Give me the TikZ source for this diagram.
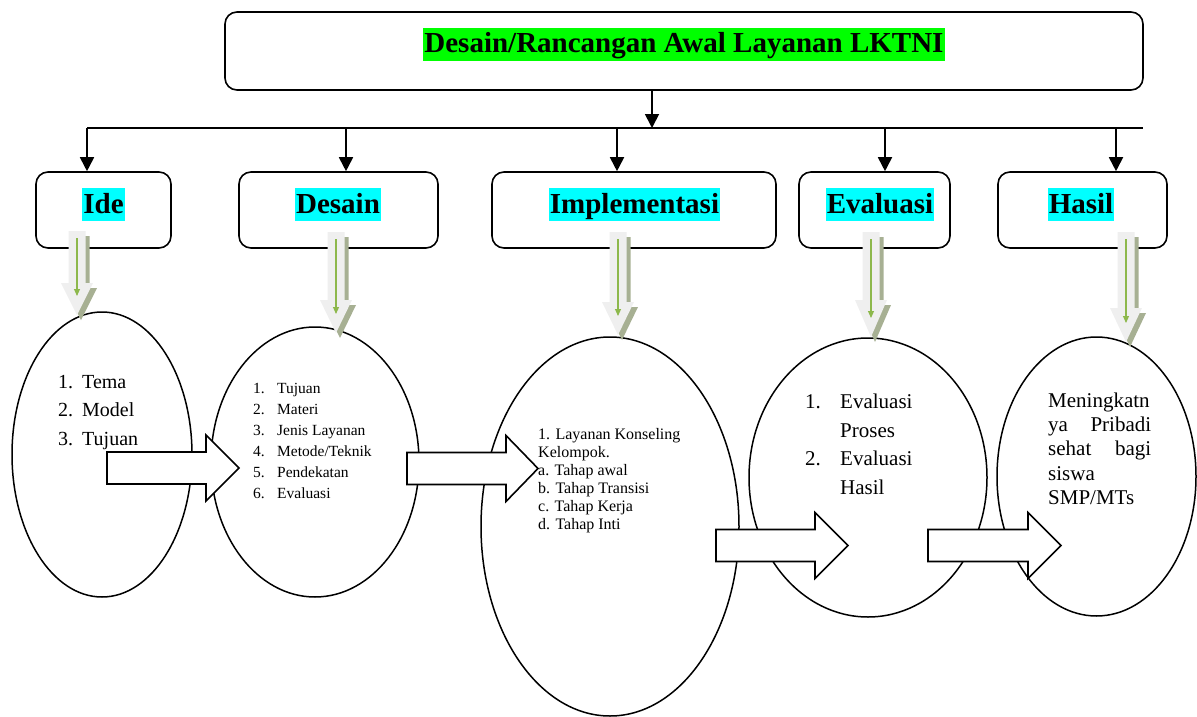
\documentclass[tikz,border=0pt]{standalone}
\usepackage{fontspec}
\setmainfont{Liberation Serif}
\usetikzlibrary{arrows.meta,shapes.geometric}
\definecolor{hlgreen}{HTML}{00FF00}
\definecolor{hlcyan}{HTML}{00FFFF}
\definecolor{arrlight}{HTML}{EFEFEF}
\definecolor{arrshadow}{HTML}{A7B093}
\definecolor{arrline}{HTML}{8DB84C}
% green down arrow: cx, ytop, yhead, ytip
\newcommand\garrow[4]{%
  \fill[arrshadow] ({#1-8.5+4},{#2+5}) -- ({#1+8.5+4},{#2+5}) -- ({#1+8.5+4},{#3+5}) -- ({#1+16+4},{#3+5}) -- ({#1+4},{#4+5}) -- ({#1-16+4},{#3+5}) -- ({#1-8.5+4},{#3+5}) -- cycle;
  \fill[arrlight] ({#1-8.5},{#2}) -- ({#1+8.5},{#2}) -- ({#1+8.5},{#3}) -- ({#1+16},{#3}) -- ({#1},{#4}) -- ({#1-16},{#3}) -- ({#1-8.5},{#3}) -- cycle;
  \draw[arrline, line width=1.1pt, -{Triangle[length=7pt,width=6pt]}] ({#1},{#2+7}) -- ({#1},{#4-19});
}
% white block arrow: x0, ymid, xhead, xtip
\newcommand\blockarr[4]{%
  \draw[barrow] ({#1},{#2-16}) -- ({#3},{#2-16}) -- ({#3},{#2-33}) -- ({#4},{#2}) -- ({#3},{#2+33}) -- ({#3},{#2+16}) -- ({#1},{#2+16}) -- cycle;
}
\begin{document}
\begin{tikzpicture}[x=1pt,y=-1pt,
  box/.style={draw, line width=1.6pt, rounded corners=12pt, fill=white, inner sep=0pt},
  hl/.style={inner xsep=1pt, inner ysep=0pt, text height=25pt, text depth=8pt, font=\fontsize{29}{34}\selectfont\bfseries},
  ell/.style={ellipse, draw, line width=1.5pt, inner sep=0pt, fill=white},
  barrow/.style={draw, line width=1.6pt, fill=white, line join=miter},
  arr/.style={line width=1.8pt, -{Triangle[length=14pt,width=14pt]}},
  lst/.style={anchor=base west, inner sep=0pt}
]
\useasboundingbox (0,0) rectangle (1197,717);

% title
\node[box, minimum width=918pt, minimum height=78pt] (title) at (684,51) {};
\node[hl, fill=hlgreen] (titletext) at (684,44.5) {Desain/Rancangan Awal Layanan LKTNI};

% bus
\coordinate (top) at (652,90);
\coordinate (busL) at (87,128);
\coordinate (busR) at (1143,128);
\coordinate (d2) at (346,128);
\coordinate (d3) at (617,128);
\coordinate (d4) at (885,128);
\coordinate (d5) at (1116,128);
\draw[line width=1.8pt] (busL) -- (busR);
\draw[arr] (top) -- (top |- busL);

% stage boxes
\node[box, minimum width=135pt, minimum height=76pt] (ide) at (103.5,210) {};
\node[box, minimum width=199pt, minimum height=76pt] (desain) at (338.5,210) {};
\node[box, minimum width=284pt, minimum height=76pt] (impl) at (634,210) {};
\node[box, minimum width=151pt, minimum height=76pt] (eval) at (874.5,210) {};
\node[box, minimum width=169pt, minimum height=76pt] (hasil) at (1082.5,210) {};

\draw[arr] (busL) -- (busL |- ide.north);
\draw[arr] (d2) -- (d2 |- desain.north);
\draw[arr] (d3) -- (d3 |- impl.north);
\draw[arr] (d4) -- (d4 |- eval.north);
\draw[arr] (d5) -- (d5 |- hasil.north);

\node[hl, fill=hlcyan] (lide) at (103.5,204.5) {Ide};
\node[hl, fill=hlcyan] (ldesain) at (338,204.5) {Desain};
\node[hl, fill=hlcyan] (limpl) at (634.5,204.5) {Implementasi};
\node[hl, fill=hlcyan] (leval) at (880,204.5) {Evaluasi};
\node[hl, fill=hlcyan] (lhasil) at (1081,204.5) {Hasil};

% ellipses
\node[ell, minimum width=180pt, minimum height=285pt] (e1) at (102,454.5) {};
\node[ell, minimum width=208pt, minimum height=270pt] (e2) at (315,462) {};
\node[ell, minimum width=258pt, minimum height=379pt] (e3) at (610,526.5) {};
\node[ell, minimum width=238pt, minimum height=279pt] (e4) at (868,477.5) {};
\node[ell, minimum width=199pt, minimum height=279pt] (e5) at (1096.5,476.5) {};

% green down arrows
\garrow{77}{231}{283}{315}
\garrow{336}{232}{300}{333}
\garrow{618}{232}{302}{335}
\garrow{871}{232}{300}{337}
\garrow{1126}{232}{308}{342}

% block arrows
\blockarr{107}{468}{206}{239}
\blockarr{407}{468.5}{506}{538}
\blockarr{716}{545.5}{815}{848}
\blockarr{928}{545.5}{1028}{1061}

% texts: Ide
\begin{scope}[font=\fontsize{20}{24}\selectfont]
\node[lst] (i1) at (58,388) {\makebox[24pt][l]{1.}Tema};
\node[lst] (i2) at (58,416.5) {\makebox[24pt][l]{2.}Model};
\node[lst] (i3) at (58,445) {\makebox[24pt][l]{3.}Tujuan};
\end{scope}
% Desain
\begin{scope}[font=\fontsize{15.5}{18}\selectfont]
\node[lst] (s1) at (253,393) {\makebox[24pt][l]{1.}Tujuan};
\node[lst] (s2) at (253,414) {\makebox[24pt][l]{2.}Materi};
\node[lst] (s3) at (253,435.5) {\makebox[24pt][l]{3.}Jenis Layanan};
\node[lst] (s4) at (253,456.5) {\makebox[24pt][l]{4.}Metode/Teknik};
\node[lst] (s5) at (253,477.5) {\makebox[24pt][l]{5.}Pendekatan};
\node[lst] (s6) at (253,498) {\makebox[24pt][l]{6.}Evaluasi};
\end{scope}
% Implementasi
\begin{scope}[font=\fontsize{16}{18}\selectfont]
\node[lst] (m1) at (538,439) {1. Layanan Konseling};
\node[lst] (m2) at (538,457) {Kelompok.};
\node[lst] (m3) at (538,475) {a. Tahap awal};
\node[lst] (m4) at (538,493) {b. Tahap Transisi};
\node[lst] (m5) at (538,511) {c. Tahap Kerja};
\node[lst] (m6) at (538,529) {d. Tahap Inti};
\end{scope}
% Evaluasi
\begin{scope}[font=\fontsize{21}{24}\selectfont]
\node[lst] (v1) at (805,408) {\makebox[35pt][l]{1.}Evaluasi};
\node[lst] (v2) at (840,437) {Proses};
\node[lst] (v3) at (805,465.5) {\makebox[35pt][l]{2.}Evaluasi};
\node[lst] (v4) at (840,494) {Hasil};
\end{scope}
% Hasil
\begin{scope}[font=\fontsize{21}{24}\selectfont]
\node[lst] (h1) at (1048,407) {\makebox[103pt][s]{Meningkatn}};
\node[lst] (h2) at (1048,431.5) {\makebox[103pt][s]{ya Pribadi}};
\node[lst] (h3) at (1048,455.5) {\makebox[103pt][s]{sehat bagi}};
\node[lst] (h4) at (1048,480) {siswa};
\node[lst] (h5) at (1048,504.5) {SMP/MTs};
\end{scope}
\end{tikzpicture}
\end{document}
